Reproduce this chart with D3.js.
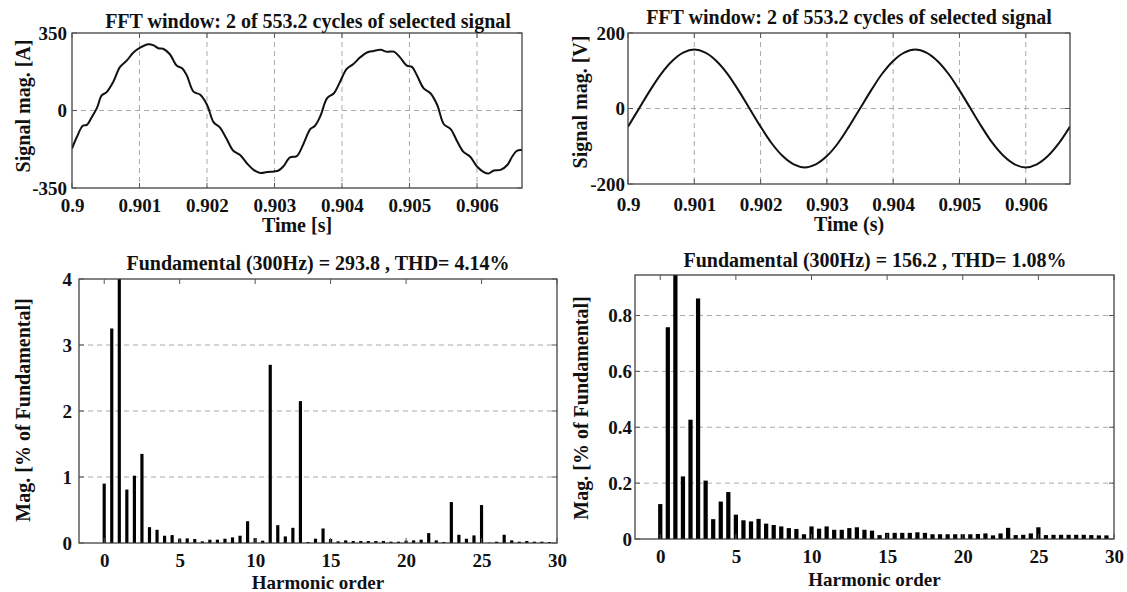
<!DOCTYPE html>
<html><head><meta charset="utf-8">
<script src="https://cdn.jsdelivr.net/npm/d3@7"></script>
<style>
body{margin:0;background:#fff}
svg{display:block}
text{font-family:"Liberation Serif","Times New Roman",serif;font-weight:bold;fill:#111}
</style>
</head><body>
<svg id="c" width="1127" height="592"></svg>
<script>
// ---------- data ----------
const timeTicks = [0.9, 0.901, 0.902, 0.903, 0.904, 0.905, 0.906];
const timeDomain = [0.9, 0.906667];
const currentYTicks = [-350, 0, 350];
const voltageYTicks = [-200, 0, 200];
const currentSpecTicks = [0, 1, 2, 3, 4];
const voltageSpecTicks = [0, 0.2, 0.4, 0.6, 0.8];
const orderTicks = [0, 5, 10, 15, 20, 25, 30];

// current waveform [time s, A]
const currentWave = [
 [0.90000,-172],[0.90007,-121],[0.90016,-69],[0.90022,-65],[0.90029,-32],[0.90037,12],[0.90044,68],[0.90051,82],
 [0.90061,129],[0.90071,196],[0.90081,225],[0.90091,262],[0.90101,284],[0.90113,299],[0.90121,294],[0.90128,281],
 [0.90135,279],[0.90145,254],[0.90155,203],[0.90163,191],[0.90170,159],[0.90180,85],[0.90190,71],[0.90200,26],
 [0.90210,-54],[0.90219,-76],[0.90229,-128],[0.90239,-182],[0.90249,-201],[0.90259,-238],[0.90269,-268],[0.90279,-282],
 [0.90289,-278],[0.90299,-275],[0.90306,-271],[0.90313,-253],[0.90323,-212],[0.90333,-206],[0.90343,-150],[0.90353,-84],
 [0.90360,-69],[0.90368,-25],[0.90378,56],[0.90388,78],[0.90397,129],[0.90407,188],[0.90417,210],[0.90427,240],
 [0.90437,262],[0.90447,269],[0.90457,274],[0.90467,265],[0.90477,266],[0.90486,240],[0.90496,203],[0.90504,196],
 [0.90511,159],[0.90521,100],[0.90531,78],[0.90541,26],[0.90551,-62],[0.90561,-84],[0.90570,-135],[0.90580,-187],
 [0.90590,-209],[0.90600,-253],[0.90610,-278],[0.90617,-285],[0.90625,-271],[0.90635,-268],[0.90645,-246],[0.90652,-209],
 [0.90659,-182],[0.90667,-179]
];

// voltage waveform [time s, V]
const voltageWave = [
 [0.9,-48],[0.900167,0],[0.900333,48],[0.9005,92],[0.900667,126],[0.900833,148],[0.901,156],[0.901167,148],
 [0.901333,126],[0.9015,92],[0.901667,48],[0.901833,0],[0.902,-48],[0.902167,-92],[0.902333,-126],[0.9025,-148],
 [0.902667,-156],[0.902833,-148],[0.903,-126],[0.903167,-92],[0.903333,-48],[0.9035,0],[0.903667,48],[0.903833,92],
 [0.904,126],[0.904167,148],[0.904333,156],[0.9045,148],[0.904667,126],[0.904833,92],[0.905,48],[0.905167,0],
 [0.905333,-48],[0.9055,-92],[0.905667,-126],[0.905833,-148],[0.906,-156],[0.906167,-148],[0.906333,-126],[0.9065,-92],
 [0.906667,-48]
];

const harmonicOrder = [0,0.5,1,1.5,2,2.5,3,3.5,4,4.5,5,5.5,6,6.5,7,7.5,8,8.5,9,9.5,
 10,10.5,11,11.5,12,12.5,13,13.5,14,14.5,15,15.5,16,16.5,17,17.5,18,18.5,19,19.5,
 20,20.5,21,21.5,22,22.5,23,23.5,24,24.5,25,25.5,26,26.5,27,27.5,28,28.5,29,29.5];

const currentSpectrum = [0.90,3.25,100,0.81,1.02,1.35,0.24,0.20,0.11,0.12,0.065,0.07,0.06,0.025,0.05,0.05,0.065,0.085,0.11,0.33,
 0.075,0.035,2.70,0.27,0.10,0.23,2.15,0.015,0.065,0.22,0.06,0.025,0.04,0.03,0.03,0.03,0.03,0.03,0.02,0.02,
 0.035,0.04,0.05,0.15,0.04,0.015,0.62,0.125,0.065,0.115,0.575,0.005,0.02,0.125,0.04,0.02,0.03,0.02,0.02,0.015];

const voltageSpectrum = [0.125,0.758,100,0.224,0.427,0.861,0.209,0.071,0.134,0.168,0.087,0.067,0.063,0.072,0.055,0.05,0.045,0.039,0.036,0.017,
 0.045,0.037,0.045,0.033,0.033,0.039,0.042,0.033,0.030,0.014,0.022,0.022,0.022,0.022,0.024,0.022,0.017,0.017,0.017,0.017,
 0.017,0.017,0.018,0.02,0.013,0.02,0.04,0.014,0.015,0.02,0.042,0.014,0.015,0.015,0.015,0.015,0.015,0.014,0.013,0.013];

// ---------- drawing ----------
const svg = d3.select("#c");
let clipId = 0;

function panel(o){
  const g = svg.append("g");
  const x = d3.scaleLinear().domain(o.xDomain).range([o.x0, o.x1]);
  const y = d3.scaleLinear().domain(o.yDomain).range([o.y1, o.y0]);
  const id = "clip" + (clipId++);
  svg.append("clipPath").attr("id", id).append("rect")
     .attr("x", o.x0).attr("y", o.y0).attr("width", o.x1 - o.x0).attr("height", o.y1 - o.y0);

  // grid
  if (o.xGrid) g.selectAll(null).data(o.xTicks.filter(t => x(t) > o.x0 + 1 && x(t) < o.x1 - 1)).enter()
     .append("line").attr("x1", d => x(d)).attr("x2", d => x(d)).attr("y1", o.y0).attr("y2", o.y1)
     .attr("stroke", "#aaa").attr("stroke-width", 1).attr("stroke-dasharray", "5,4");
  g.selectAll(null).data(o.yTicks.filter(t => y(t) > o.y0 + 1 && y(t) < o.y1 - 1)).enter()
     .append("line").attr("y1", d => y(d)).attr("y2", d => y(d)).attr("x1", o.x0).attr("x2", o.x1)
     .attr("stroke", "#aaa").attr("stroke-width", 1).attr("stroke-dasharray", "5,4");

  const plot = g.append("g").attr("clip-path", `url(#${id})`);
  if (o.line) {
    const line = d3.line().x(d => x(d[0])).y(d => y(d[1])).curve(d3.curveCatmullRom);
    plot.append("path").datum(o.line).attr("d", line).attr("fill", "none")
        .attr("stroke", "#111").attr("stroke-width", 2);
  }
  if (o.bars) {
    const w = (x(1) - x(0)) * o.barW;
    const top = o.yDomain[1] * 1.05;
    plot.selectAll(null).data(o.bars.o).enter().append("rect")
      .attr("x", (d) => x(d) - w / 2)
      .attr("width", w)
      .attr("y", (d, i) => y(Math.min(o.bars.v[i], top)))
      .attr("height", (d, i) => y(0) - y(Math.min(o.bars.v[i], top)))
      .attr("fill", "#000");
  }

  // box
  g.append("rect").attr("x", o.x0).attr("y", o.y0).attr("width", o.x1 - o.x0).attr("height", o.y1 - o.y0)
   .attr("fill", "none").attr("stroke", "#333").attr("stroke-width", 1.2);

  // inner ticks
  const tl = 5;
  o.xTicks.forEach(t => {
    const px = x(t);
    g.append("line").attr("x1", px).attr("x2", px).attr("y1", o.y0).attr("y2", o.y0 + tl).attr("stroke", "#555");
    g.append("line").attr("x1", px).attr("x2", px).attr("y1", o.y1).attr("y2", o.y1 - tl).attr("stroke", "#555");
  });
  o.yTicks.forEach(t => {
    const py = y(t);
    g.append("line").attr("y1", py).attr("y2", py).attr("x1", o.x0).attr("x2", o.x0 + tl).attr("stroke", "#555");
    g.append("line").attr("y1", py).attr("y2", py).attr("x1", o.x1).attr("x2", o.x1 - tl).attr("stroke", "#555");
  });

  // axes labels
  const ax = g.append("g").attr("transform", `translate(0,${o.y1})`)
    .call(d3.axisBottom(x).tickValues(o.xTicks).tickSize(0).tickPadding(o.xPad).tickFormat(d => String(d)));
  ax.select(".domain").remove();
  const ay = g.append("g").attr("transform", `translate(${o.x0},0)`)
    .call(d3.axisLeft(y).tickValues(o.yTicks).tickSize(0).tickPadding(o.yPad).tickFormat(d => String(d)));
  ay.select(".domain").remove();
  [ax, ay].forEach(a => a.attr("font-family", null).attr("font-size", null)
      .selectAll("text").style("font-size", o.tickFs + "px").attr("fill", "#111"));

  // titles
  g.append("text").attr("x", o.titleX).attr("y", o.titleY).attr("text-anchor", "middle")
   .style("font-size", o.titleFs + "px").text(o.title);
  g.append("text").attr("x", (o.x0 + o.x1) / 2).attr("y", o.xLabelY).attr("text-anchor", "middle")
   .style("font-size", (o.xLabFs || o.labFs) + "px").text(o.xLabel);
  g.append("text").attr("transform", `translate(${o.yLabelX},${o.yLabelY}) rotate(-90)`).attr("text-anchor", "middle")
   .style("font-size", o.labFs + "px").text(o.yLabel);
}

panel({x0:72, x1:522, y0:33, y1:188, xDomain:timeDomain, yDomain:[-350,350],
  xTicks:timeTicks, yTicks:currentYTicks, xGrid:true, line:currentWave,
  xPad:11, yPad:5, tickFs:19, titleFs:20, labFs:20,
  title:"FFT window: 2 of 553.2 cycles of selected signal", titleX:308, titleY:28,
  xLabel:"Time [s]", xLabelY:232, yLabel:"Signal mag. [A]", yLabelX:30, yLabelY:106});

panel({x0:628, x1:1070, y0:33, y1:184, xDomain:timeDomain, yDomain:[-200,200],
  xTicks:timeTicks, yTicks:voltageYTicks, xGrid:true, line:voltageWave,
  xPad:14, yPad:3, tickFs:19, titleFs:20, labFs:20,
  title:"FFT window: 2 of 553.2 cycles of selected signal", titleX:849, titleY:24,
  xLabel:"Time (s)", xLabelY:231, yLabel:"Signal mag. [V]", yLabelX:587, yLabelY:102});

panel({x0:79, x1:557, y0:279, y1:543, xDomain:[-1.67,30], yDomain:[0,4],
  xTicks:orderTicks, yTicks:currentSpecTicks, xGrid:false,
  bars:{o:harmonicOrder, v:currentSpectrum}, barW:0.21,
  xPad:10.5, yPad:7, tickFs:19, titleFs:20, labFs:20, xLabFs:19,
  title:"Fundamental (300Hz) = 293.8 , THD= 4.14%", titleX:318, titleY:270,
  xLabel:"Harmonic order", xLabelY:588.5, yLabel:"Mag. [% of Fundamental]", yLabelX:30, yLabelY:410});

panel({x0:635, x1:1114, y0:275, y1:539, xDomain:[-1.67,30], yDomain:[0,0.945],
  xTicks:orderTicks, yTicks:voltageSpecTicks, xGrid:false,
  bars:{o:harmonicOrder, v:voltageSpectrum}, barW:0.28,
  xPad:11, yPad:3, tickFs:19, titleFs:20, labFs:20, xLabFs:19,
  title:"Fundamental (300Hz) = 156.2 , THD= 1.08%", titleX:875, titleY:267,
  xLabel:"Harmonic order", xLabelY:585.5, yLabel:"Mag. [% of Fundamental]", yLabelX:588, yLabelY:408});
</script>
</body></html>
